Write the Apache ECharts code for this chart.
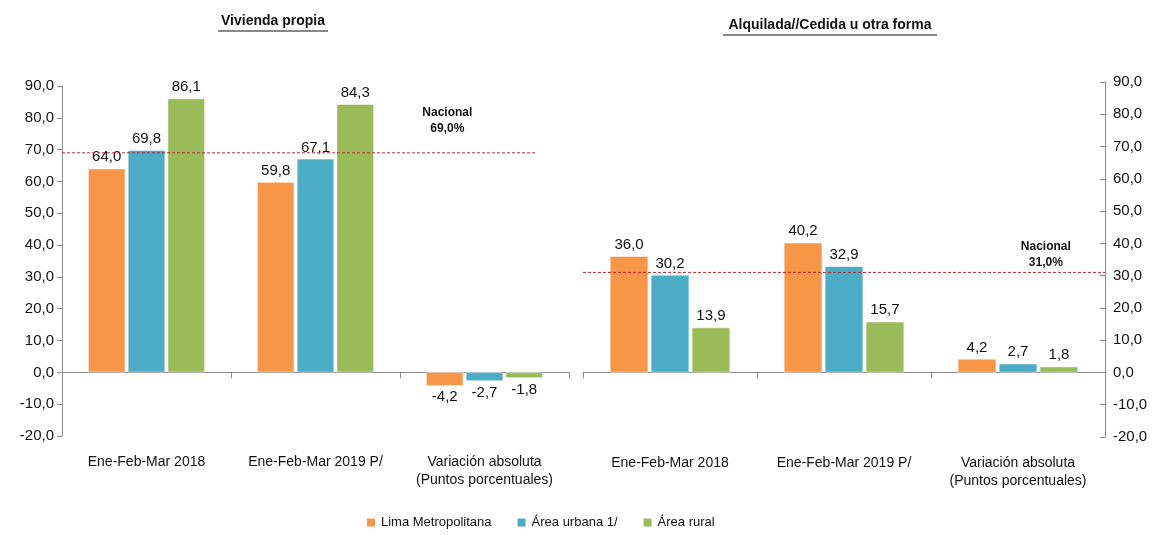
<!DOCTYPE html>
<html><head><meta charset="utf-8">
<script src="https://cdn.jsdelivr.net/npm/echarts@6/dist/echarts.min.js"></script>
<style>html,body{margin:0;padding:0;background:#fff}#c{width:1160px;height:535px}</style>
</head><body><div id="c"></div>
<script>
const categories = ['Ene-Feb-Mar 2018', 'Ene-Feb-Mar 2019 P/', 'Variación absoluta\n(Puntos porcentuales)'];
const seriesNames = ['Lima Metropolitana', 'Área urbana 1/', 'Área rural'];
const propiaLima = [64.0, 59.8, -4.2];
const propiaUrbana = [69.8, 67.1, -2.7];
const propiaRural = [86.1, 84.3, -1.8];
const alquiladaLima = [36.0, 40.2, 4.2];
const alquiladaUrbana = [30.2, 32.9, 2.7];
const alquiladaRural = [13.9, 15.7, 1.8];
const nacionalPropia = 69.0;
const nacionalAlquilada = 31.0;
const yTicks = [-20, -10, 0, 10, 20, 30, 40, 50, 60, 70, 80, 90];
const titles = ['Vivienda propia', 'Alquilada//Cedida u otra forma'];

const colors = ['#F79646', '#4BACC6', '#9BBB59'];
const FONT = '"Liberation Sans", Arial, sans-serif';
const fmt = v => v.toFixed(1).replace('.', ',');

function barSeries(name, vals, idx, color) {
  return {
    type: 'bar', name, xAxisIndex: idx, yAxisIndex: idx,
    barWidth: '22%', barGap: '7%',
    itemStyle: { color, borderColor: '#fff', borderWidth: 0.5 },
    data: vals.map(v => ({ value: v, label: { position: v < 0 ? 'bottom' : 'top' } })),
    label: { show: true, color: '#111', fontFamily: FONT, fontSize: 15, distance: 4,
      formatter: p => fmt(p.value) }
  };
}
function refSeries(val, idx, xEnd, labelX, labelY) {
  return {
    type: 'line', name: 'Nacional', xAxisIndex: idx + 2, yAxisIndex: idx,
    symbol: 'none', silent: true, z: 5,
    itemStyle: { color: '#C0262B' },
    lineStyle: { color: '#C0262B', width: 1, type: [3, 2] },
    data: [[-0.5, val], [xEnd, val]],
    markPoint: {
      symbol: 'circle', symbolSize: 0,
      label: { show: true, position: 'inside', color: '#111', fontWeight: 'bold', fontFamily: FONT,
        fontSize: 12, lineHeight: 16, formatter: 'Nacional\n' + fmt(val) + '%' },
      data: [{ coord: [labelX, labelY] }]
    }
  };
}

const chart = echarts.init(document.getElementById('c'));
const yAxisCommon = {
  type: 'value', min: yTicks[0], max: yTicks[yTicks.length - 1], interval: 10,
  splitLine: { show: false },
  axisLine: { show: true, onZero: false, lineStyle: { color: '#8c8c8c' } },
  axisTick: { show: true, length: 5, lineStyle: { color: '#8c8c8c' } },
  axisLabel: { color: '#111', fontFamily: FONT, fontSize: 15, formatter: v => fmt(v) }
};
const xAxisCommon = {
  type: 'category', data: categories,
  axisLine: { onZero: true, lineStyle: { color: '#8c8c8c' } },
  axisTick: { show: true, length: 6, lineStyle: { color: '#8c8c8c' } },
  axisLabel: { color: '#111', fontFamily: FONT, fontSize: 14, margin: 17, lineHeight: 18, interval: 0 }
};
const helperX = { type: 'value', min: -0.5, max: 2.5, show: false };

chart.setOption({
  animation: false,
  textStyle: { fontFamily: FONT },
  grid: [
    { left: 62, top: 86, width: 507, bottom: 99, containLabel: false, outerBoundsMode: 'none' },
    { left: 583, top: 82, width: 522, bottom: 98, containLabel: false, outerBoundsMode: 'none' }
  ],
  xAxis: [
    Object.assign({ gridIndex: 0 }, xAxisCommon),
    Object.assign({ gridIndex: 1 }, xAxisCommon),
    Object.assign({ gridIndex: 0 }, helperX),
    Object.assign({ gridIndex: 1 }, helperX)
  ],
  yAxis: [
    Object.assign({ gridIndex: 0, position: 'left' }, yAxisCommon),
    Object.assign({ gridIndex: 1, position: 'right' }, yAxisCommon,
      { axisTick: { show: true, inside: true, length: 5, lineStyle: { color: '#8c8c8c' } } })
  ],
  legend: {
    bottom: 1, left: 360, data: seriesNames, itemWidth: 10, itemHeight: 10, itemGap: 24,
    icon: 'rect', textStyle: { fontFamily: FONT, fontSize: 13, color: '#111' }
  },
  graphic: [
    { type: 'text', x: 273, y: 14, style: { text: titles[0], font: 'bold 14px ' + FONT, fill: '#111', align: 'center' } },
    { type: 'line', shape: { x1: 218, y1: 31, x2: 328, y2: 31 }, style: { stroke: '#111', lineWidth: 1 } },
    { type: 'text', x: 830, y: 18, style: { text: titles[1], font: 'bold 14px ' + FONT, fill: '#111', align: 'center' } },
    { type: 'line', shape: { x1: 723, y1: 35, x2: 937, y2: 35 }, style: { stroke: '#111', lineWidth: 1 } }
  ],
  series: [
    barSeries(seriesNames[0], propiaLima, 0, colors[0]),
    barSeries(seriesNames[1], propiaUrbana, 0, colors[1]),
    barSeries(seriesNames[2], propiaRural, 0, colors[2]),
    barSeries(seriesNames[0], alquiladaLima, 1, colors[0]),
    barSeries(seriesNames[1], alquiladaUrbana, 1, colors[1]),
    barSeries(seriesNames[2], alquiladaRural, 1, colors[2]),
    refSeries(nacionalPropia, 0, 2.31, 1.78, 79),
    refSeries(nacionalAlquilada, 1, 2.5, 2.16, 36.5)
  ]
});
</script></body></html>
